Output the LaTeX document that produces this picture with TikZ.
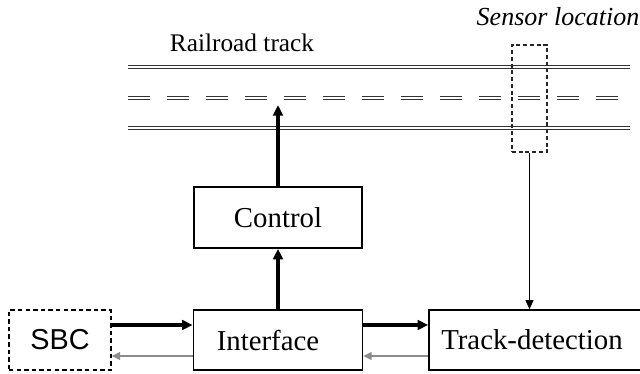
\documentclass[tikz,border=0pt]{standalone}
\usepackage{fontspec}
\setmainfont{Liberation Serif}
\newfontfamily\sbcfont{Liberation Sans}
\usepackage{xcolor}
\usetikzlibrary{arrows.meta,positioning}
\definecolor{linegray}{HTML}{8C8C8C}
\definecolor{sensorgray}{HTML}{444444}
\tikzset{
  block/.style={
    draw=black,
    line width=1.1pt,
    fill=white,
    align=center,
    inner sep=0pt,
    font=\fontsize{20.5}{24}\selectfont
  },
  dashblock/.style={
    block,
    dash pattern=on 3.2pt off 2.2pt
  },
  rail/.style={
    draw=black!80,
    line width=0.95pt,
    double=white,
    double distance=1.1pt
  },
  mainarrow/.style={
    -{Triangle[length=7.5pt,width=6.8pt]},
    line width=2.4pt,
    draw=black
  },
  backarrow/.style={
    -{Triangle[length=6pt,width=5.6pt]},
    line width=1pt,
    draw=linegray,
    color=linegray
  },
  sensorarrow/.style={
    -{Triangle[length=6.4pt,width=5.6pt]},
    line width=0.8pt,
    draw=sensorgray,
    color=black
  },
  caption/.style={
    inner sep=0pt,
    font=\fontsize{18}{20}\selectfont
  }
}

\begin{document}
\begin{tikzpicture}[x=0.025cm, y=-0.025cm]
    \useasboundingbox (0,0) rectangle (640,374);
    % track
    \draw[rail] (128,67) -- (630,67);
    \draw[rail] (128,128) -- (630,128);
    \foreach \i in {0,...,12}
      \draw[rail] (128+39*\i,98) -- (150+39*\i,98);
    \node[caption] (tracklabel) at (242,43) {Railroad track};
    \node[caption, font=\fontsize{18.5}{20}\selectfont\itshape] (sensorlabel) at (558,17) {Sensor location};
    \node[draw=black!85, line width=0.9pt, dash pattern=on 2.8pt off 2pt,
          minimum width=0.875cm, minimum height=2.675cm] (sensor) at (529.5,98.5) {};
    % blocks
    \node[block, minimum width=4.225cm, minimum height=1.5cm] (iface) at (278,340) {\hspace*{-0.5cm}Interface};
    \node[block, minimum width=4.2cm, minimum height=1.525cm] (ctrl) at (278,217.5) {Control};
    \node[dashblock, minimum width=2.55cm, minimum height=1.5cm, font=\sbcfont\fontsize{20.5}{24}\selectfont] (sbc) at (60,340) {SBC};
    \node[block, minimum width=5.35cm, minimum height=1.5cm] (track) at (536,340) {\hspace*{-0.2cm}Track-detection};
    \coordinate (railhit) at (278,105);
    % connectors
    \draw[mainarrow] (iface) -- (ctrl);
    \draw[mainarrow] (ctrl.north) -- (railhit);
    \draw[mainarrow] ([shift={(0,-15)}]sbc.east) -- ([shift={(0,-15)}]iface.west);
    \draw[backarrow] ([shift={(0,16)}]iface.west) -- ([shift={(0,16)}]sbc.east);
    \draw[mainarrow] ([shift={(0,-15)}]iface.east) -- ([shift={(0,-15)}]track.west);
    \draw[backarrow] ([shift={(0,16)}]track.west) -- ([shift={(0,16)}]iface.east);
    \draw[sensorarrow] (sensor.south) -- (sensor.south |- track.north);
  \end{tikzpicture}
\end{document}
